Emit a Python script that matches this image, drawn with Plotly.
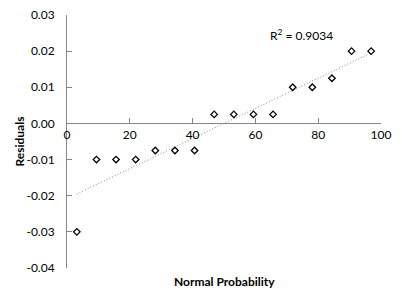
import numpy as np
import plotly.graph_objects as go

normal_prob = [3.125, 9.375, 15.625, 21.875, 28.125, 34.375, 40.625, 46.875,
               53.125, 59.375, 65.625, 71.875, 78.125, 84.375, 90.625, 96.875]
residuals = [-0.03, -0.01, -0.01, -0.01, -0.0075, -0.0075, -0.0075, 0.0025,
             0.0025, 0.0025, 0.0025, 0.01, 0.01, 0.0125, 0.02, 0.02]
r2_label = "R<sup>2</sup> = 0.9034"
x_ticks = [0, 20, 40, 60, 80, 100]
y_ticks = [-0.04, -0.03, -0.02, -0.01, 0.0, 0.01, 0.02, 0.03]
y_ticktext = ["%.2f" % v for v in y_ticks]

slope, intercept = np.polyfit(normal_prob, residuals, 1)
fit_x = [normal_prob[0], normal_prob[-1]]
fit_y = [slope * v + intercept for v in fit_x]

font = "Lato, 'Open Sans', sans-serif"
fig = go.Figure()
fig.add_trace(go.Scatter(x=fit_x, y=fit_y, mode="lines",
                         line=dict(color="#7a7a7a", width=0.9, dash="1px,2px"),
                         hoverinfo="skip", showlegend=False))
fig.add_trace(go.Scatter(x=normal_prob, y=residuals, mode="markers",
                         marker=dict(symbol="diamond-open", size=5,
                                     color="black", line=dict(width=1.3, color="black")),
                         showlegend=False))

ymin, ymax = -0.04, 0.03
L, R, T, B = 67, 21, 15, 33
plot_w = 402 - L - R
fig.update_layout(
    width=402, height=301,
    margin=dict(l=L, r=R, t=T, b=B),
    paper_bgcolor="white", plot_bgcolor="white",
    font=dict(family=font, size=12, color="black"),
    xaxis=dict(range=[0, 100], tickvals=x_ticks, showgrid=False, zeroline=False,
               showline=True, linecolor="#868686", linewidth=1,
               ticks="inside", ticklen=5, tickcolor="#868686",
               anchor="free", position=(0 - ymin) / (ymax - ymin),
               ticklabeloverflow="allow", automargin=False,
               tickfont=dict(size=12)),
    yaxis=dict(range=[ymin, ymax], tickvals=y_ticks, ticktext=y_ticktext,
               showgrid=False, zeroline=False,
               showline=True, linecolor="#868686", linewidth=1,
               ticks="inside", ticklen=5, tickcolor="#868686",
               ticklabelstandoff=9, automargin=False,
               tickfont=dict(size=12)),
    annotations=[
        dict(text=r2_label, x=64, y=0.0244, xref="x", yref="y",
             xanchor="left", yanchor="middle", showarrow=False,
             font=dict(size=12)),
        dict(text="<b>Normal Probability</b>", x=0.5, y=-0.015, xref="paper",
             yref="paper", xanchor="center", yanchor="top", showarrow=False,
             font=dict(size=12)),
        dict(text="<b>Residuals</b>", x=(19 - L) / plot_w, y=0.5, xref="paper",
             yref="paper", xanchor="center", yanchor="middle", showarrow=False,
             textangle=-90, font=dict(size=12)),
    ],
)
fig.write_html("out.html", config={"displayModeBar": False},
               post_script="document.body.style.margin='0';document.body.style.padding='0';")
